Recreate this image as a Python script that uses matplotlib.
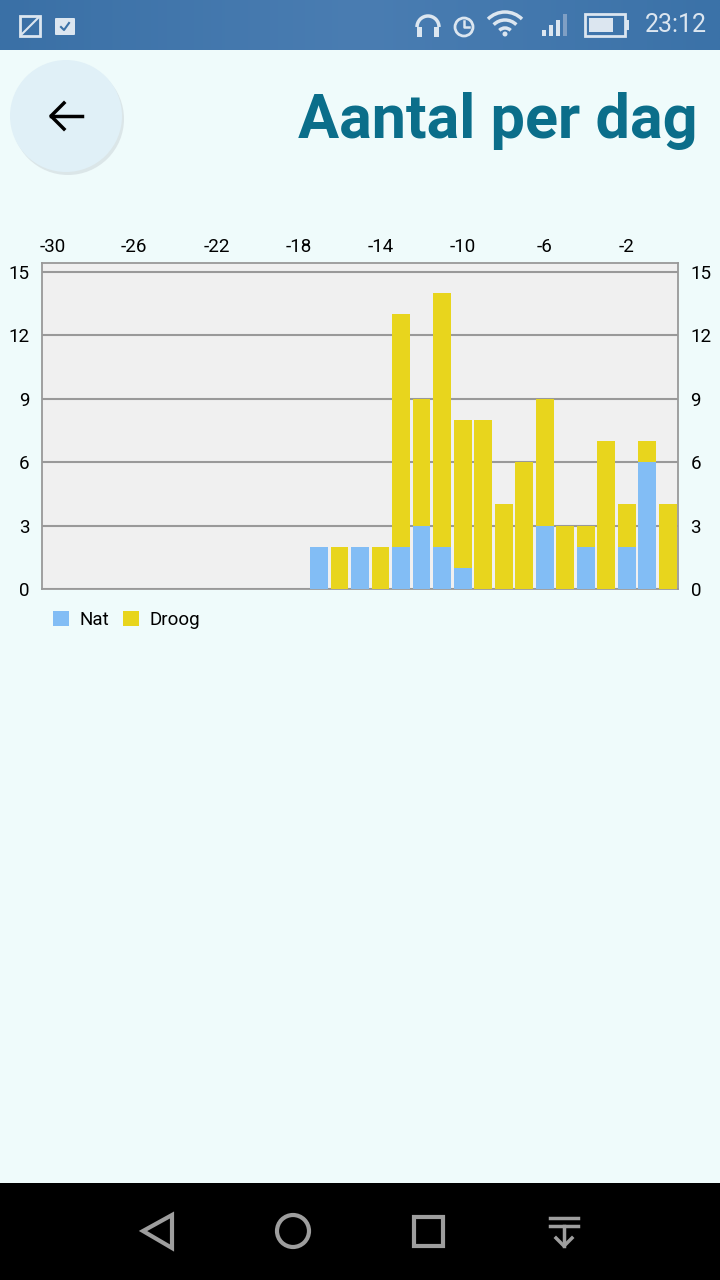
import numpy as np
import matplotlib.pyplot as plt
from matplotlib.patches import Circle, Rectangle, Polygon, FancyBboxPatch, Arc
plt.rcParams['font.family'] = ['Roboto', 'DejaVu Sans']
plt.rcParams['axes.unicode_minus'] = False

# dagen terug (0 = vandaag)
dagen = [-17, -16, -15, -14, -13, -12, -11, -10, -9, -8, -7, -6, -5, -4, -3, -2, -1, 0]
nat = [2, 0, 2, 0, 2, 3, 2, 1, 0, 0, 0, 3, 0, 2, 0, 2, 6, 0]
droog = [0, 2, 0, 2, 11, 6, 12, 7, 8, 4, 6, 6, 3, 1, 7, 2, 1, 4]
xticks = [-30, -26, -22, -18, -14, -10, -6, -2]
yticks = [0, 3, 6, 9, 12, 15]

kleur_nat = '#82bdf5'
kleur_droog = '#e8d51d'

fig = plt.figure(figsize=(7.2, 12.8), dpi=100)
fig.patch.set_facecolor('#effbfb')

# overlay in pixel coordinaten voor de app-omlijsting
bg = fig.add_axes([0, 0, 1, 1])
bg.axis('off')

grad = np.linspace(0, 1, 256).reshape(1, -1)
bg.imshow(grad, extent=(0, 720, 50, 0), aspect='auto',
          cmap=plt.matplotlib.colors.LinearSegmentedColormap.from_list('sb', ['#3a70a6', '#4a7db2', '#3b72a8']))
bg.set_xlim(0, 720)
bg.set_ylim(1280, 0)

ic = '#dce6f0'
# statusbalk iconen (vereenvoudigd)
bg.add_patch(Rectangle((20, 16), 20, 20, fill=False, ec=ic, lw=2))
bg.plot([22, 38], [34, 18], color=ic, lw=1.5)
bg.add_patch(FancyBboxPatch((56, 19), 18, 15, boxstyle='round,pad=1', fc=ic, ec='none'))
bg.plot([61, 64, 69], [27, 30, 23], color='#3b72a8', lw=1.5)
# batterij
bg.add_patch(Rectangle((585, 14), 40, 22, fill=False, ec=ic, lw=2))
bg.add_patch(Rectangle((589, 18), 24, 14, fc=ic, ec='none'))
bg.add_patch(Rectangle((626, 20), 3, 10, fc=ic, ec='none'))
# signaal
for i, h in enumerate([6, 11, 16, 22]):
    bg.add_patch(Rectangle((542 + i * 7, 36 - h), 4, h, fc=ic if i < 3 else '#7f9fc4', ec='none'))
# koptelefoon
bg.add_patch(Arc((428, 27), 22, 22, theta1=180, theta2=360, ec=ic, lw=2.5))
bg.add_patch(Rectangle((417, 27), 5, 10, fc=ic, ec='none'))
bg.add_patch(Rectangle((434, 27), 5, 10, fc=ic, ec='none'))
# wekker
bg.add_patch(Circle((464, 27), 9, fill=False, ec=ic, lw=2))
bg.plot([464, 464, 469], [21, 27, 27], color=ic, lw=1.8)
# wifi
for r in [8, 16, 24]:
    bg.add_patch(Arc((505, 36), r * 2, r * 2, theta1=-135, theta2=-45, ec=ic, lw=2.5))
bg.add_patch(Circle((505, 34), 2.5, fc=ic, ec='none'))
bg.text(707, 25, '23:12', color=ic, fontsize=18, ha='right', va='center')

# terug-knop
bg.add_patch(Circle((68, 119), 56, fc='#cfd8dc', ec='none', alpha=0.6))
bg.add_patch(Circle((66, 116), 56, fc='#e0f0f7', ec='none'))
bg.plot([51, 82], [116, 116], color='black', lw=2.5)
bg.plot([64, 51, 64], [103, 116, 129], color='black', lw=2.5)

bg.text(698, 138, 'Aantal per dag', color='#0b6e8a', fontsize=44, fontweight='bold',
        ha='right', va='baseline')

# navigatiebalk
bg.add_patch(Rectangle((0, 1183), 720, 97, fc='black', ec='none'))
nc = '#9e9e9e'
bg.add_patch(Polygon([[172, 1215], [172, 1248], [143, 1231]], closed=True, fill=False, ec=nc, lw=3))
bg.add_patch(Circle((293, 1231), 16, fill=False, ec=nc, lw=3))
bg.add_patch(Rectangle((414, 1217), 29, 29, fill=False, ec=nc, lw=3))
bg.plot([550, 578], [1218, 1218], color=nc, lw=2.5)
bg.plot([550, 578], [1226, 1226], color=nc, lw=2.5)
bg.plot([564, 564], [1226, 1246], color=nc, lw=2.5)
bg.plot([556, 564, 572], [1238, 1246, 1238], color=nc, lw=2.5)

# grafiek
ax = fig.add_axes([42 / 720, 1 - 589 / 1280, 636 / 720, 326 / 1280])
ax.set_facecolor('#f0f0f0')
ax.bar(dagen, nat, width=0.87, color=kleur_nat, label='Nat', zorder=3)
ax.bar(dagen, droog, width=0.87, bottom=nat, color=kleur_droog, label='Droog', zorder=3)
ax.set_xlim(-30.5, 0.5)
ax.set_ylim(0, 15.43)
ax.set_xticks(xticks)
ax.set_yticks(yticks)
ax.yaxis.grid(True, color='#999999', lw=1.5, zorder=1)
ax.tick_params(axis='x', top=True, bottom=False, labeltop=True, labelbottom=False,
               length=0, pad=5, labelsize=13.5)
ax.tick_params(axis='y', left=True, right=True, labelleft=True, labelright=True,
               length=0, pad=9, labelsize=13.5)
for s in ax.spines.values():
    s.set_color('#999999')
    s.set_linewidth(1.3)

leg = ax.legend(loc='upper left', bbox_to_anchor=(0.005, -0.045), ncol=2, frameon=False,
                fontsize=13.5, handlelength=0.85, handleheight=0.85, handletextpad=0.6,
                columnspacing=0.7, borderaxespad=0)

plt.savefig('out.png', dpi=100, facecolor=fig.get_facecolor())
